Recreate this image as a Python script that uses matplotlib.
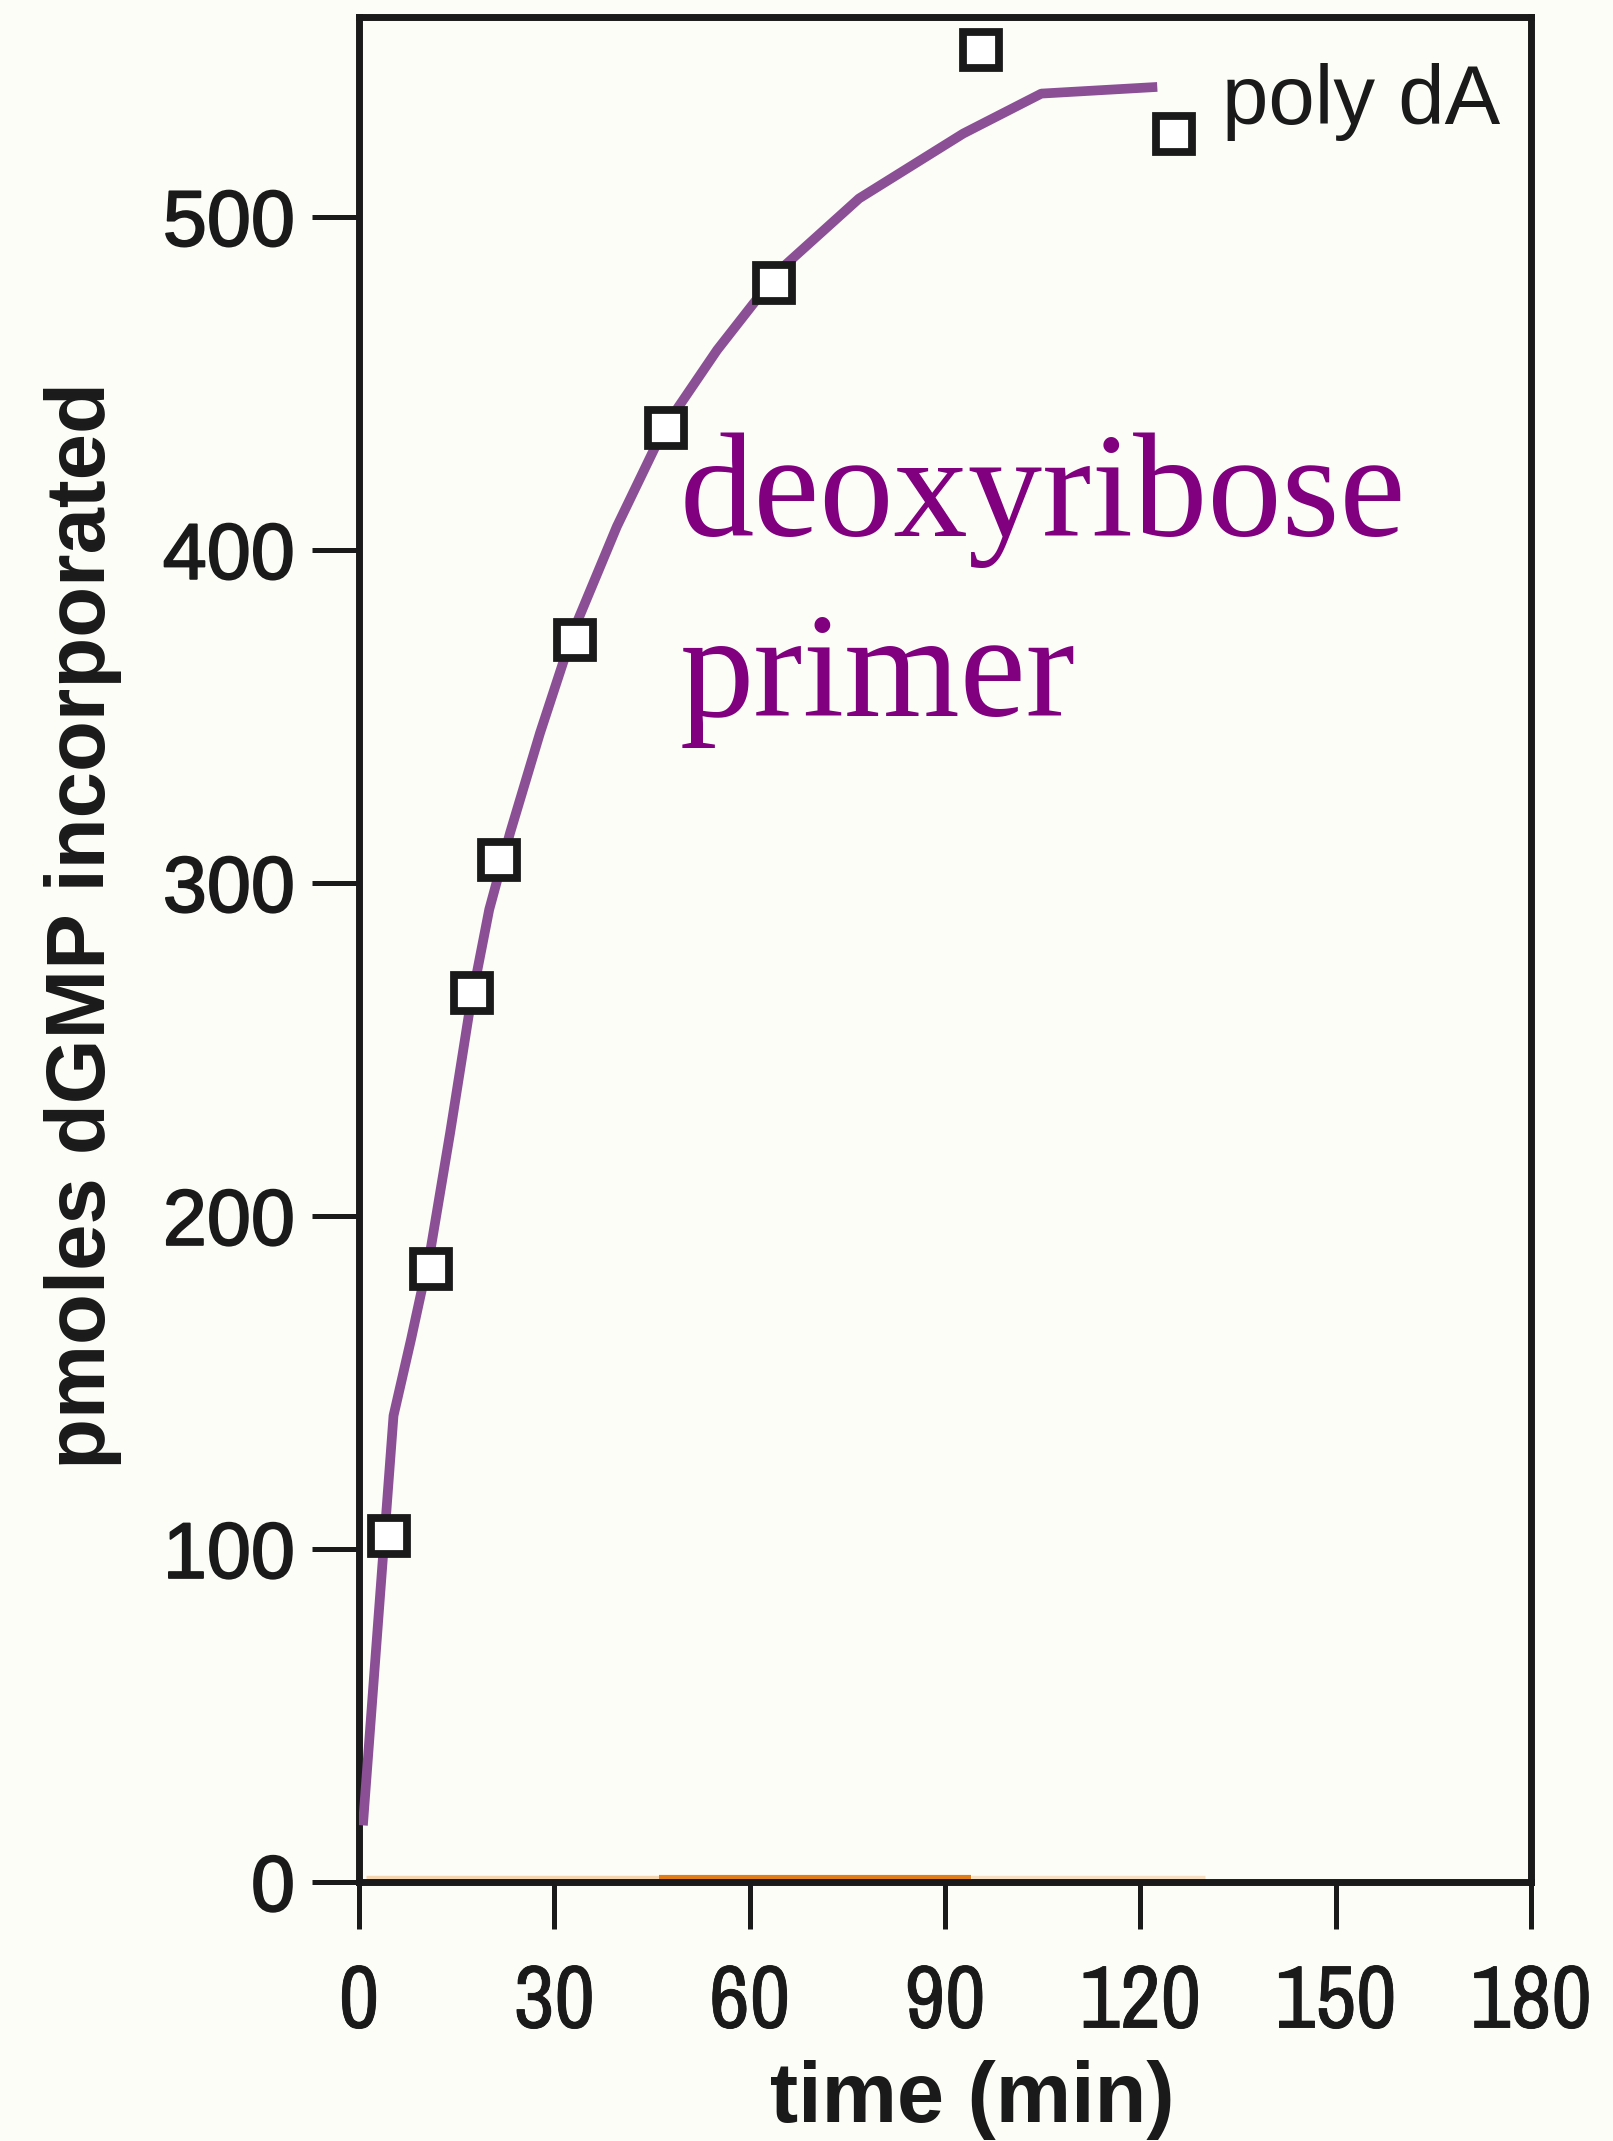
import numpy as np
import matplotlib
matplotlib.use("Agg")
import matplotlib.pyplot as plt
import matplotlib.patheffects as pe
from matplotlib import font_manager

# measured points (open squares), poly dA
time_pts = [4.6, 11.1, 17.4, 21.5, 33.2, 47.1, 63.8, 95.5, 125.2]
dgmp_pts = [104, 184, 267, 307, 373, 436.5, 480, 550, 525]

# fitted curve drawn through the points
curve_t = [0.6, 5.3, 8.0, 11.0, 14.0, 17.0, 20.0, 23.2, 27.8, 33.0, 39.6, 47.0, 55.0,
           64.6, 76.8, 92.8, 104.8, 122.6]
curve_y = [17, 140, 163, 190, 225, 262, 292, 315, 345, 376, 407, 437, 460,
           484, 505.5, 525, 537, 539]

# remains of a baseline series hidden along y = 0
base_t = [1, 46, 94, 130]
base_y = [1.6, 1.6, 1.6, 1.6]

xticks = [0, 30, 60, 90, 120, 150, 180]
yticks = [0, 100, 200, 300, 400, 500]

bg = '#fdfdf8'
ink = '#1a1a1a'

installed = {f.name for f in font_manager.fontManager.ttflist}
narrow = next((n for n in ['Liberation Sans Narrow', 'Arial Narrow', 'Archivo Narrow']
               if n in installed), 'Liberation Sans')
sans = ['Liberation Sans', 'DejaVu Sans']
heavy = [pe.withStroke(linewidth=1.3, foreground=ink)]

fig = plt.figure(figsize=(16.13, 21.41), dpi=100, facecolor=bg)
ax = fig.add_axes([359 / 1613, 1 - 1882 / 2141, (1531 - 359) / 1613, (1882 - 17) / 2141])
ax.set_facecolor(bg)

# baseline remnant (mostly covered)
ax.plot(base_t[:2], base_y[:2], color='#e8892a', lw=2.5, alpha=0.35, solid_capstyle='butt')
ax.plot(base_t[1:3], base_y[1:3], color='#e07d18', lw=3, solid_capstyle='butt')
ax.plot(base_t[2:], base_y[2:], color='#e8892a', lw=2.5, alpha=0.25, solid_capstyle='butt')

ax.plot(curve_t, curve_y, color='#8b4f96', lw=7, solid_capstyle='butt',
        solid_joinstyle='round', zorder=3)
ax.plot(time_pts, dgmp_pts, linestyle='none', marker='s', ms=26, mew=5.6,
        mec=ink, mfc='white', zorder=4, clip_on=False)

ax.set_xlim(0, 180)
ax.set_ylim(0, 560)
ax.set_xticks(xticks)
ax.set_yticks(yticks)

for s in ax.spines.values():
    s.set_linewidth(5)
    s.set_color(ink)

ax.tick_params(axis='both', direction='out', length=34, width=3.6, color=ink)
ax.tick_params(axis='x', pad=24)
ax.tick_params(axis='y', pad=12)

for lab in ax.get_xticklabels():
    lab.set_family([narrow] + sans)
    lab.set_fontsize(64)
    lab.set_color(ink)
    lab.set_path_effects([pe.withStroke(linewidth=0.6, foreground=ink)])
for lab in ax.get_yticklabels():
    lab.set_family(sans)
    lab.set_fontsize(57)
    lab.set_color(ink)
    lab.set_path_effects(heavy)

ax.set_xlabel('time (min)', family=sans, fontsize=61, fontweight='bold', color=ink)
ax.xaxis.set_label_coords(0.523, -0.0954)
ax.set_ylabel('pmoles dGMP incorporated', family=sans, fontsize=60,
              fontweight='bold', color=ink)
ax.yaxis.set_label_coords(-0.2025, 0.5126)

ax.text(132.5, 528, 'poly dA', family=sans, fontsize=60,
        color=ink, ha='left', va='baseline')
ax.text(49.3, 350, 'deoxyribose\nprimer', family=['Liberation Serif', 'DejaVu Serif'],
        fontsize=107, color='#800080', ha='left', va='baseline', linespacing=1.44)

fig.savefig('out.png', dpi=100, facecolor=bg)
